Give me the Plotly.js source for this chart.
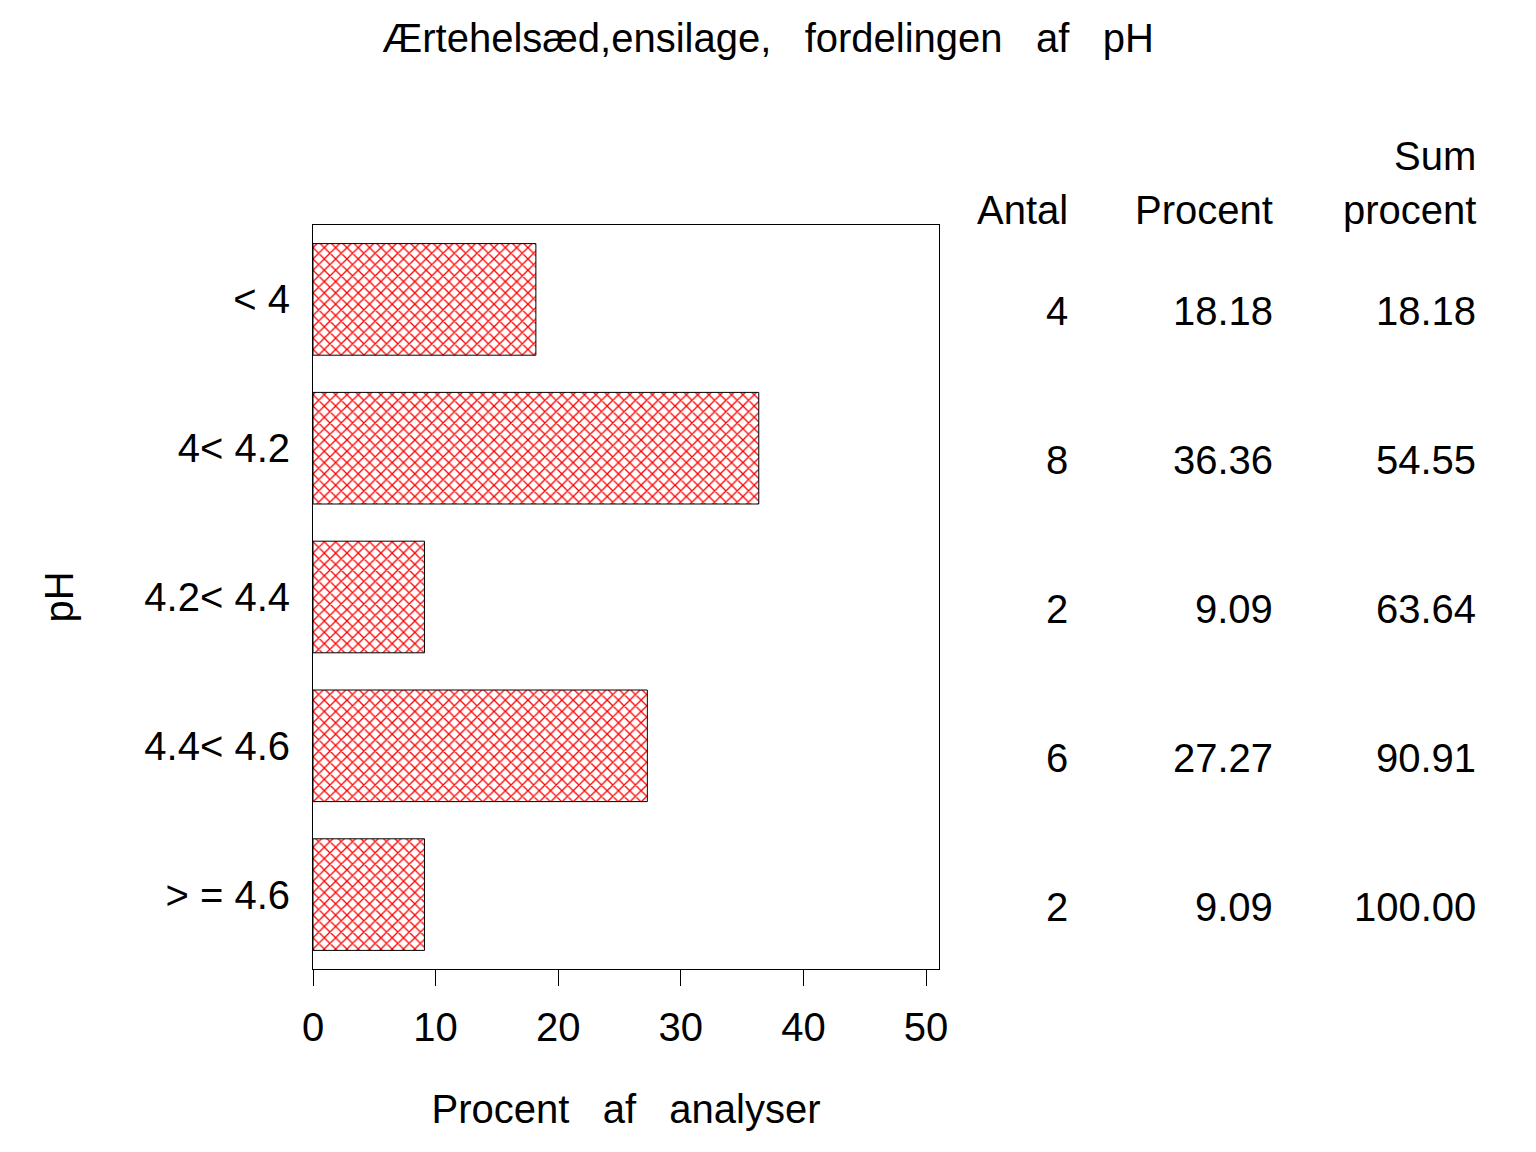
<!DOCTYPE html>
<html>
<head>
<meta charset="utf-8">
<script src="https://cdn.plot.ly/plotly-3.0.1.min.js"></script>
<style>html,body{margin:0;padding:0;background:#fff;}</style>
</head>
<body>
<div id="chart" style="width:1536px;height:1152px;"></div>
<script>
const NB = '\u00a0';
const categories = ['<' + NB + '4', '4<' + NB + '4.2', '4.2<' + NB + '4.4', '4.4<' + NB + '4.6', '>' + NB + '=' + NB + '4.6'];
const procent = [18.18, 36.36, 9.09, 27.27, 9.09];
const antal = [4, 8, 2, 6, 2];
const sumProcent = [18.18, 54.55, 63.64, 90.91, 100.00];
const xTicks = [0, 10, 20, 30, 40, 50];

const FONT = '"Liberation Sans", Arial, Helvetica, sans-serif';
const FS = 40;
const SP3 = NB + NB + NB;

const trace = {
  type: 'bar',
  orientation: 'h',
  y: categories,
  x: procent,
  width: 0.75,
  marker: {
    color: 'white',
    line: {color: 'black', width: 1},
    pattern: {shape: 'x', fgcolor: '#ff0000', bgcolor: 'white', size: 8, solidity: 0.3}
  },
  hoverinfo: 'x+y'
};

const annotations = [];
const colX = [1.2095, 1.537, 1.861];
for (let i = 0; i < categories.length; i++) {
  const vals = [String(antal[i]), procent[i].toFixed(2), sumProcent[i].toFixed(2)];
  vals.forEach((v, j) => {
    annotations.push({
      xref: 'paper', yref: 'y', x: colX[j], y: i + 0.08,
      xanchor: 'right', yanchor: 'middle', text: v, showarrow: false,
      font: {family: FONT, size: FS, color: 'black'}
    });
  });
}
const headers = [
  {x: colX[0], y: 1.02, t: 'Antal'},
  {x: colX[1], y: 1.02, t: 'Procent'},
  {x: colX[2], y: 1.02, t: 'procent'},
  {x: colX[2], y: 1.093, t: 'Sum'}
];
headers.forEach(h => annotations.push({
  xref: 'paper', yref: 'paper', x: h.x, y: h.y, xanchor: 'right', yanchor: 'middle',
  text: h.t, showarrow: false, font: {family: FONT, size: FS, color: 'black'}
}));

const layout = {
  width: 1536, height: 1152,
  margin: {l: 313, r: 597, t: 225, b: 183},
  paper_bgcolor: 'white', plot_bgcolor: 'white',
  showlegend: false,
  font: {family: FONT, size: FS, color: 'black'},
  title: {
    text: 'Ærtehelsæd,ensilage,' + SP3 + 'fordelingen' + SP3 + 'af' + SP3 + 'pH',
    font: {family: FONT, size: 40, color: 'black'},
    x: 0.5, xanchor: 'center', xref: 'container',
    y: 1 - 38 / 1152, yanchor: 'middle', yref: 'container'
  },
  xaxis: {
    range: [0, 51.06],
    tickvals: xTicks,
    ticktext: xTicks.map(String),
    ticks: 'outside', ticklen: 16, tickwidth: 1, tickcolor: 'black',
    ticklabelstandoff: 7,
    showline: true, linecolor: 'black', linewidth: 1, mirror: true,
    showgrid: false, zeroline: false,
    tickfont: {family: FONT, size: FS, color: 'black'},
    title: {text: 'Procent' + SP3 + 'af' + SP3 + 'analyser', font: {family: FONT, size: FS, color: 'black'}, standoff: 46},
    automargin: false, fixedrange: true
  },
  yaxis: {
    type: 'category',
    categoryorder: 'array', categoryarray: categories,
    autorange: 'reversed',
    ticks: '', ticklabelstandoff: 14,
    showline: true, linecolor: 'black', linewidth: 1, mirror: true,
    showgrid: false, zeroline: false,
    tickfont: {family: FONT, size: FS, color: 'black'},
    title: {text: 'pH', font: {family: FONT, size: FS, color: 'black'}, standoff: 58},
    automargin: false, fixedrange: true
  },
  annotations: annotations,
  bargap: 0.25
};

Plotly.newPlot('chart', [trace], layout, {displayModeBar: false, staticPlot: true});
</script>
</body>
</html>
